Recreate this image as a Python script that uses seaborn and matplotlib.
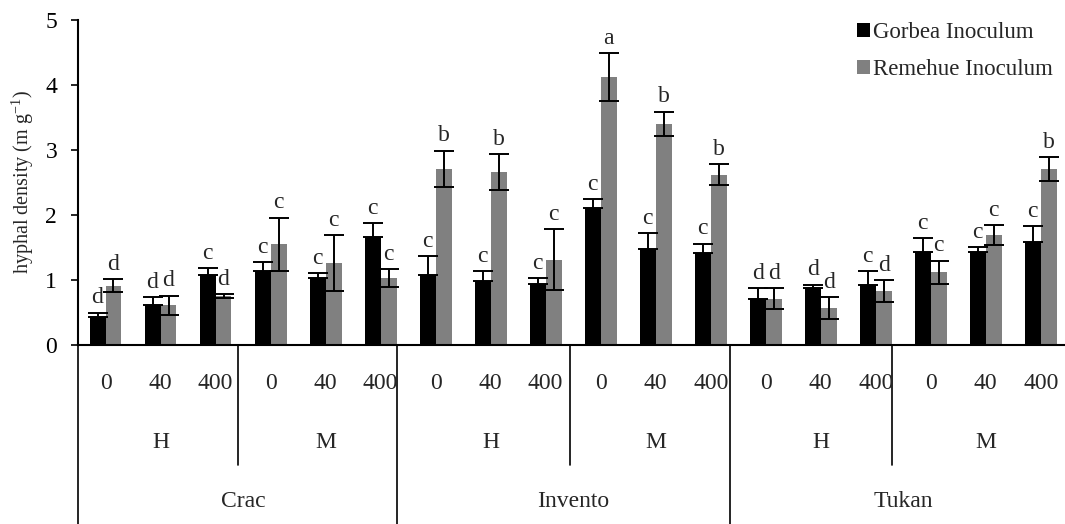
"""Hyphal density by variety, site and dose for two inocula."""

import matplotlib.pyplot as plt
import matplotlib.transforms as mtransforms
import pandas as pd
import seaborn as sns

varieties = ["Crac", "Invento", "Tukan"]
sites = ["H", "M"]
doses = ["0", "40", "400"]
series = ["Gorbea Inoculum", "Remehue Inoculum"]
y_ticks = [0, 1, 2, 3, 4, 5]

gorbea = [0.43, 0.61, 1.08, 1.14, 1.03, 1.66,
          1.08, 0.98, 0.94, 2.11, 1.48, 1.42,
          0.71, 0.88, 0.92, 1.43, 1.43, 1.58]
gorbea_err = [0.07, 0.13, 0.10, 0.13, 0.08, 0.21,
              0.29, 0.16, 0.09, 0.14, 0.24, 0.14,
              0.16, 0.05, 0.22, 0.22, 0.08, 0.25]
gorbea_letters = ["d", "d", "c", "c", "c", "c",
                  "c", "c", "c", "c", "c", "c",
                  "d", "d", "c", "c", "c", "c"]

remehue = [0.91, 0.61, 0.75, 1.55, 1.26, 1.03,
           2.71, 2.66, 1.31, 4.12, 3.40, 2.62,
           0.71, 0.57, 0.83, 1.12, 1.69, 2.71]
remehue_err = [0.10, 0.15, 0.03, 0.41, 0.43, 0.14,
               0.28, 0.28, 0.47, 0.37, 0.19, 0.16,
               0.16, 0.17, 0.17, 0.18, 0.15, 0.18]
remehue_letters = ["d", "d", "d", "c", "c", "c",
                   "b", "b", "c", "a", "b", "b",
                   "d", "d", "d", "c", "c", "b"]

n_groups = len(gorbea)
rows = []
for i in range(n_groups):
    rows.append({"group": i, "series": series[0], "value": gorbea[i]})
    rows.append({"group": i, "series": series[1], "value": remehue[i]})
df = pd.DataFrame(rows)

sns.set_theme(style="white")
plt.rcParams["font.family"] = ["Liberation Serif", "DejaVu Serif"]
plt.rcParams["mathtext.fontset"] = "custom"
plt.rcParams["mathtext.rm"] = "Liberation Serif"

W, H = 1065, 524
fig = plt.figure(figsize=(W / 100, H / 100), dpi=100)
ax = fig.add_axes([78 / W, 1 - 345 / H, 987 / W, 325 / H])

sns.barplot(data=df, x="group", y="value", hue="series", hue_order=series,
            palette=["black", "#808080"], width=0.58, gap=0, saturation=1,
            errorbar=None, ax=ax, linewidth=0)

errs = [gorbea_err, remehue_err]
letters = [gorbea_letters, remehue_letters]
bar_conts = list(ax.containers)
for k, cont in enumerate(bar_conts):
    xs = [p.get_x() + p.get_width() / 2 for p in cont.patches]
    hs = [p.get_height() for p in cont.patches]
    # black bars hide the lower half of their error bars
    yerr = [[0] * n_groups, errs[k]] if k == 0 else errs[k]
    ax.errorbar(xs, hs, yerr=yerr, fmt="none", ecolor="black",
                elinewidth=1.4, capsize=7.5, capthick=1.4, zorder=3)
    for x, h, e, lab in zip(xs, hs, errs[k], letters[k]):
        ax.annotate(lab, (x, h + e), xytext=(0, 3), textcoords="offset points",
                    ha="center", va="bottom", fontsize=17)

ax.set_xlim(-0.5, 17.44)
ax.set_ylim(0, 5)
ax.set_yticks(y_ticks)
ax.set_yticklabels([str(t) for t in y_ticks], fontfamily="Liberation Serif")
ax.set_xticks([])
ax.set_xlabel("")
ax.set_ylabel(r"hyphal density (m g$^{\mathregular{-1}}$)", fontsize=14.5)
ax.yaxis.set_label_coords(-0.043, 0.5)
ax.tick_params(axis="y", left=True, direction="out", length=5, width=1.2,
               pad=10, labelsize=17, colors="black")
sns.despine(ax=ax)
for s in ("left", "bottom"):
    ax.spines[s].set_color("black")
    ax.spines[s].set_linewidth(1.5)

# hierarchical category axis
trans = mtransforms.blended_transform_factory(ax.transData, ax.transAxes)
for i in range(n_groups):
    ax.text(i, -0.117, doses[i % 3], transform=trans, ha="center", va="center",
            fontsize=17)
for j in range(6):
    ax.text(j * 3 + 1, -0.30, sites[j % 2], transform=trans, ha="center",
            va="center", fontsize=17)
for v, name in enumerate(varieties):
    ax.text(v * 6 + 2.5, -0.483, name, transform=trans, ha="center",
            va="center", fontsize=17)

ax.plot([0, 0], [0, -0.56], transform=ax.transAxes, color="black", lw=1.2,
        clip_on=False)
for xb in (2.4, 8.45, 14.3):
    ax.plot([xb, xb], [0, -0.37], transform=trans, color="black", lw=1.2,
            clip_on=False)
for xb in (5.3, 11.35):
    ax.plot([xb, xb], [0, -0.56], transform=trans, color="black", lw=1.2,
            clip_on=False)

leg = ax.legend(loc="upper left", bbox_to_anchor=(846 / W, 1 - 11 / H),
                bbox_transform=fig.transFigure, frameon=False, fontsize=16.5,
                handlelength=0.55, handleheight=0.55, handletextpad=0.12,
                labelspacing=0.68, borderpad=0)

fig.savefig("out.png", dpi=100)
